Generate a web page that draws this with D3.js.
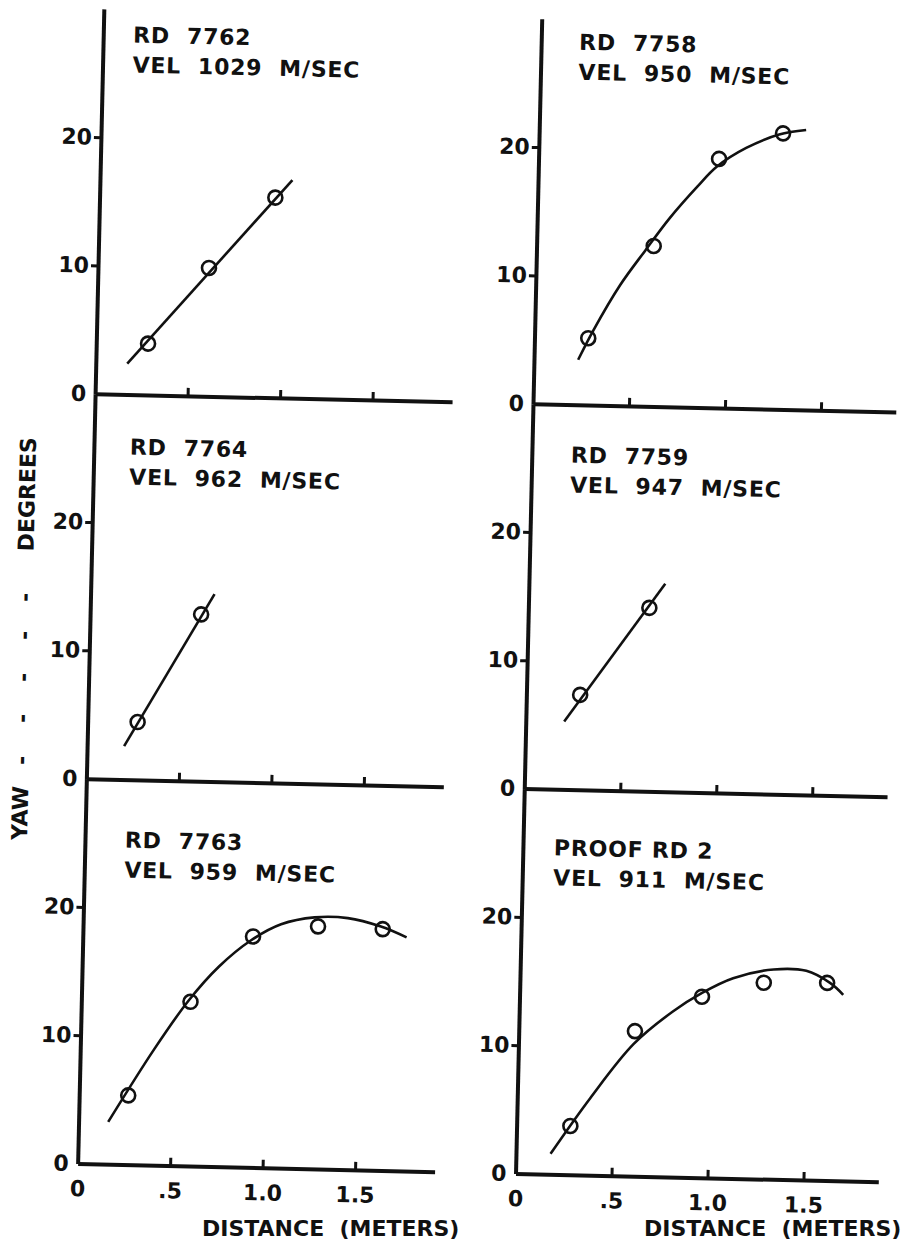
<!DOCTYPE html>
<html>
<head>
<meta charset="utf-8">
<script src="https://cdn.jsdelivr.net/npm/d3@7"></script>
<style>
  body { margin: 0; background: #fff; }
  svg { display: block; background: #fff; }
  text { font-family: "DejaVu Sans", sans-serif; font-weight: bold; fill: #111; white-space: pre; }
</style>
</head>
<body>
<div id="vis"></div>
<script>
// Panel captions, in reading order (left/right, top to bottom)
const PANEL_ROUNDS = ["RD  7762", "RD  7758", "RD  7764", "RD  7759", "RD  7763", "PROOF RD 2"];
const PANEL_VELOCITIES = ["VEL  1029  M/SEC", "VEL  950  M/SEC", "VEL  962  M/SEC",
                          "VEL  947  M/SEC", "VEL  959  M/SEC", "VEL  911  M/SEC"];

// Measured points (distance in meters, yaw in degrees)
const DIST_7762 = [0.28, 0.60, 0.95];
const YAW_7762 = [4.0, 10.0, 15.6];
const DIST_7758 = [0.28, 0.61, 0.94, 1.27];
const YAW_7758 = [5.2, 12.5, 19.4, 21.5];
const DIST_7764 = [0.27, 0.60];
const YAW_7764 = [4.5, 13.0];
const DIST_7759 = [0.28, 0.63];
const YAW_7759 = [7.4, 14.3];
const DIST_7763 = [0.265, 0.59, 0.92, 1.27, 1.62];
const YAW_7763 = [5.4, 12.8, 18.0, 18.9, 18.8];
const DIST_PROOF2 = [0.28, 0.605, 0.95, 1.27, 1.60];
const YAW_PROOF2 = [3.8, 11.3, 14.1, 15.3, 15.4];

// Hand-drawn fair curves
const FIT_DIST_7762 = [0.17, 1.04];
const FIT_YAW_7762 = [2.4, 17.0];
const FIT_DIST_7758 = [0.23, 0.305, 0.44, 0.565, 0.69, 0.83, 0.93, 1.08, 1.25, 1.39];
const FIT_YAW_7758 = [3.5, 5.8, 9.4, 12.1, 14.7, 17.2, 18.8, 20.3, 21.4, 21.8];
const FIT_DIST_7764 = [0.20, 0.67];
const FIT_YAW_7764 = [2.6, 14.6];
const FIT_DIST_7759 = [0.20, 0.71];
const FIT_YAW_7759 = [5.3, 16.2];
const FIT_DIST_7763 = [0.16, 0.40, 0.58, 0.74, 0.91, 1.07, 1.25, 1.43, 1.61, 1.75];
const FIT_YAW_7763 = [3.3, 9.05, 12.9, 15.6, 17.7, 19.0, 19.6, 19.6, 19.0, 18.2];
const FIT_DIST_PROOF2 = [0.18, 0.38, 0.60, 0.80, 0.95, 1.11, 1.32, 1.49, 1.615, 1.685];
const FIT_YAW_PROOF2 = [1.6, 6.0, 10.3, 12.9, 14.4, 15.6, 16.35, 16.3, 15.4, 14.5];

// Ticks
const Y_TICKS = [0, 10, 20];
const X_TICKS = [0, 0.5, 1.0, 1.5];
const X_TICK_LABELS = ["0", ".5", "1.0", "1.5"];

const PANEL_DIST = [DIST_7762, DIST_7758, DIST_7764, DIST_7759, DIST_7763, DIST_PROOF2];
const PANEL_YAW = [YAW_7762, YAW_7758, YAW_7764, YAW_7759, YAW_7763, YAW_PROOF2];
const PANEL_FIT_DIST = [FIT_DIST_7762, FIT_DIST_7758, FIT_DIST_7764, FIT_DIST_7759, FIT_DIST_7763, FIT_DIST_PROOF2];
const PANEL_FIT_YAW = [FIT_YAW_7762, FIT_YAW_7758, FIT_YAW_7764, FIT_YAW_7759, FIT_YAW_7763, FIT_YAW_PROOF2];

// Frame and layout
const FRAME_WIDTH = 912;
const FRAME_HEIGHT = 1246;
const TILT = 1.3;                 // the original scan sits slightly skewed
const AXIS_X = [90, 528];         // y axis of left / right column
const ROW_ZERO = [402, 787, 1172];// x axis of each row
const PANEL_HEIGHT = 385;
const X_MAX = [1.93, 1.89];
const PX_PER_M = [185, 192];
const LABEL_DX = [30, 38, 36, 39, 40, 31];
const LABEL_DY = [33, 30, 60, 58, 68, 66];
const FONT = "22px";

const FRAME = d3.select("#vis")
                .append("svg")
                  .attr("width", FRAME_WIDTH)
                  .attr("height", FRAME_HEIGHT);

const PAGE = FRAME.append("g")
                  .attr("transform", "rotate(" + TILT + "," + (FRAME_WIDTH / 2) + ",623)");

const Y_SCALE = d3.scaleLinear()
                  .domain([0, 30])
                  .range([PANEL_HEIGHT, 0]);

function styleAxis(g) {
  g.attr("font-size", FONT)
   .attr("font-family", "DejaVu Sans, sans-serif")
   .attr("font-weight", "bold");
  g.select(".domain").attr("stroke", "#111").attr("stroke-width", 4);
  g.selectAll(".tick line").attr("stroke", "#111").attr("stroke-width", 3);
  g.selectAll(".tick text").attr("fill", "#111");
  g.selectAll(".tick").filter((d) => d === 0).select("line").remove();
}

PANEL_ROUNDS.forEach((round, i) => {
  const col = i % 2;
  const row = Math.floor(i / 2);

  const X_SCALE = d3.scaleLinear()
                    .domain([0, X_MAX[col]])
                    .range([0, X_MAX[col] * PX_PER_M[col]]);

  const panel = PAGE.append("g")
                    .attr("transform", "translate(" + AXIS_X[col] + "," + (ROW_ZERO[row] - PANEL_HEIGHT) + ")");

  // y axis
  panel.append("g")
       .call(d3.axisLeft(Y_SCALE).tickValues(Y_TICKS).tickSizeInner(7).tickSizeOuter(0).tickPadding(2))
       .call(styleAxis);

  // x axis, numbers only on the bottom row
  panel.append("g")
       .attr("transform", "translate(0," + PANEL_HEIGHT + ")")
       .call(d3.axisBottom(X_SCALE)
               .tickValues(X_TICKS)
               .tickSizeInner(-8)
               .tickSizeOuter(0)
               .tickPadding(17)
               .tickFormat((d, k) => row === 2 ? X_TICK_LABELS[k] : ""))
       .call(styleAxis);

  // fitted curve
  const fit = PANEL_FIT_DIST[i].map((d, k) => [d, PANEL_FIT_YAW[i][k]]);
  panel.append("path")
       .datum(fit)
       .attr("fill", "none")
       .attr("stroke", "#111")
       .attr("stroke-width", 2.6)
       .attr("d", d3.line()
                    .x((d) => X_SCALE(d[0]))
                    .y((d) => Y_SCALE(d[1]))
                    .curve(d3.curveCatmullRom.alpha(0.5)));

  // measured points
  const pts = PANEL_DIST[i].map((d, k) => [d, PANEL_YAW[i][k]]);
  panel.selectAll("points")
       .data(pts)
       .enter()
       .append("circle")
         .attr("cx", (d) => X_SCALE(d[0]))
         .attr("cy", (d) => Y_SCALE(d[1]))
         .attr("r", 7)
         .attr("fill", "none")
         .attr("stroke", "#111")
         .attr("stroke-width", 2.6);

  // caption
  panel.append("text")
       .attr("x", LABEL_DX[i])
       .attr("y", LABEL_DY[i])
       .attr("font-size", FONT)
       .attr("letter-spacing", "0.8px")
       .text(round);
  panel.append("text")
       .attr("x", LABEL_DX[i])
       .attr("y", LABEL_DY[i] + 30)
       .attr("font-size", FONT)
       .attr("letter-spacing", "0.8px")
       .text(PANEL_VELOCITIES[i]);
});

// x axis titles (typed level on the sheet)
FRAME.append("text")
     .attr("x", 202)
     .attr("y", 1236)
     .attr("font-size", FONT)
     .text("DISTANCE  (METERS)");
FRAME.append("text")
     .attr("x", 644)
     .attr("y", 1236)
     .attr("font-size", FONT)
     .text("DISTANCE  (METERS)");

// y axis title, rotated, with the dashes spread out along it
const YTITLE = PAGE.append("text")
                   .attr("transform", "translate(32,850) rotate(-90)")
                   .attr("font-size", FONT);
YTITLE.append("tspan").attr("x", 0).attr("y", 0).text("YAW");
[80, 122, 163, 205, 243].forEach((x) => {
  YTITLE.append("tspan").attr("x", x).attr("y", 0).attr("text-anchor", "middle").text(" - ");
});
YTITLE.append("tspan").attr("x", 403).attr("y", 0).attr("text-anchor", "end").text("DEGREES");
</script>
</body>
</html>
